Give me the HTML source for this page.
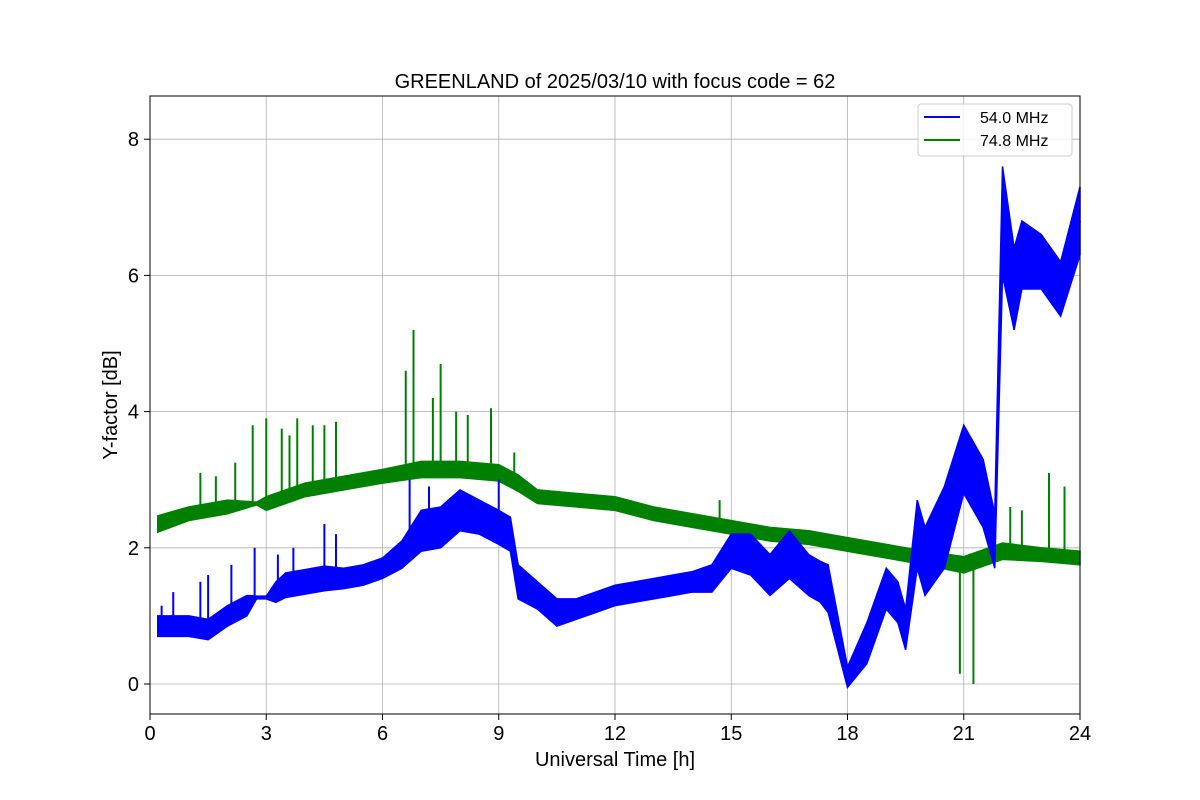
<!DOCTYPE html>
<html><head><meta charset="utf-8">
<style>
html,body{margin:0;padding:0;background:#fff;}
svg{display:block;font-family:"Liberation Sans","DejaVu Sans",sans-serif;}
</style></head>
<body>
<svg id="chart" width="1200" height="800" xmlns="http://www.w3.org/2000/svg">
<rect width="1200" height="800" fill="#fff"/>
<g id="grid"></g>
<g id="series"></g>
<rect x="150" y="96" width="930" height="618" fill="none" stroke="#000" stroke-width="1"/>
<g id="ticks"></g>
<text x="615" y="88" text-anchor="middle" font-size="20">GREENLAND of 2025/03/10 with focus code = 62</text>
<text x="615" y="766" text-anchor="middle" font-size="20">Universal Time [h]</text>
<text transform="translate(117,405) rotate(-90)" text-anchor="middle" font-size="20">Y-factor [dB]</text>
<g>
<rect x="918" y="104" width="154" height="52" rx="3" fill="#fff" fill-opacity="0.8" stroke="#ccc"/>
<g>
<line x1="924" y1="117" x2="960" y2="117" stroke="#0000ff" stroke-width="2"/>
<text x="980" y="123" font-size="16">54.0 MHz</text></g>
<g>
<line x1="924" y1="140" x2="960" y2="140" stroke="#008000" stroke-width="2"/>
<text x="980" y="146" font-size="16">74.8 MHz</text></g>
</g>
</svg>
<script>
const xTicks=[0,3,6,9,12,15,18,21,24];
const yTicks=[0,2,4,6,8];
const blueT=[0.2,0.5,1,1.5,2,2.5,2.75,3.0,3.25,3.5,4,4.5,5,5.5,6,6.5,7,7.5,8,8.5,9,9.3,9.5,10,10.5,11,11.5,12,12.5,13,13.5,14,14.5,15,15.5,16,16.5,17,17.3,17.5,18,18.5,19,19.3,19.5,19.8,20,20.5,21,21.5,21.8,22,22.3,22.5,23,23.5,24];
const blueV=[0.85,0.85,0.85,0.8,1.0,1.15,1.27,1.27,1.35,1.45,1.5,1.55,1.55,1.6,1.7,1.9,2.25,2.3,2.55,2.45,2.3,2.2,1.5,1.3,1.05,1.1,1.2,1.3,1.35,1.4,1.45,1.5,1.55,1.95,1.9,1.6,1.9,1.6,1.5,1.4,0.1,0.6,1.4,1.2,0.8,2.2,1.8,2.3,3.3,2.8,2.1,6.8,5.8,6.3,6.2,5.8,6.8];
const blueS=[0.15,0.15,0.15,0.15,0.15,0.15,0.02,0.02,0.15,0.18,0.18,0.18,0.15,0.15,0.15,0.2,0.3,0.3,0.3,0.25,0.25,0.25,0.25,0.2,0.2,0.15,0.15,0.15,0.15,0.15,0.15,0.15,0.2,0.25,0.3,0.3,0.35,0.3,0.3,0.35,0.15,0.3,0.3,0.3,0.3,0.5,0.5,0.6,0.5,0.5,0.4,0.8,0.6,0.5,0.4,0.4,0.5];
const greenT=[0.2,1,2,2.75,3.0,3.5,4,5,6,7,8,9,9.5,10,11,12,13,14,15,16,17,18,19,20,21,22,23,24];
const greenV=[2.35,2.5,2.6,2.65,2.65,2.75,2.85,2.95,3.05,3.15,3.15,3.1,2.95,2.75,2.7,2.65,2.5,2.4,2.3,2.2,2.15,2.05,1.95,1.85,1.75,1.95,1.9,1.85];
const greenS=[0.12,0.1,0.1,0.02,0.1,0.1,0.1,0.1,0.1,0.12,0.12,0.12,0.12,0.1,0.1,0.1,0.1,0.1,0.1,0.1,0.1,0.1,0.1,0.1,0.12,0.12,0.1,0.1];
const greenSpikeT=[1.3,1.7,2.2,2.65,3.0,3.4,3.6,3.8,4.2,4.5,4.8,6.6,6.8,7.3,7.5,7.9,8.2,8.8,9.4,14.7,20.9,21.25,22.2,22.5,23.2,23.6];
const greenSpikeV=[3.1,3.05,3.25,3.8,3.9,3.75,3.65,3.9,3.8,3.8,3.85,4.6,5.2,4.2,4.7,4.0,3.95,4.05,3.4,2.7,0.15,0.0,2.6,2.55,3.1,2.9];
const blueSpikeT=[0.3,0.6,1.3,1.5,2.1,2.7,3.3,3.7,4.5,4.8,6.7,7.2,9.0];
const blueSpikeV=[1.15,1.35,1.5,1.6,1.75,2.0,1.9,2.0,2.35,2.2,3.0,2.9,3.0];

const NS="http://www.w3.org/2000/svg";
const x=t=>150+t*(930/24);
const y=v=>684-v*68.1;
function mk(tag,attrs,parent){const e=document.createElementNS(NS,tag);for(const k in attrs)e.setAttribute(k,attrs[k]);parent.appendChild(e);return e;}
const grid=document.getElementById('grid'),ticks=document.getElementById('ticks'),ser=document.getElementById('series');
xTicks.forEach(t=>{
 const g=mk('line',{x1:x(t),x2:x(t),y1:96,y2:714,stroke:'#b0b0b0','stroke-width':0.8},grid);
 
 
 const tk=mk('line',{x1:x(t),x2:x(t),y1:714,y2:720,stroke:'#000'},ticks);
 
 
 const tx=mk('text',{x:x(t),y:740,'text-anchor':'middle','font-size':20},ticks);
 tx.textContent=t;
 
 
});
yTicks.forEach(v=>{
 const g=mk('line',{x1:150,x2:1080,y1:y(v),y2:y(v),stroke:'#b0b0b0','stroke-width':0.8},grid);
 
 
 const tk=mk('line',{x1:144,x2:150,y1:y(v),y2:y(v),stroke:'#000'},ticks);
 
 
 const tx=mk('text',{x:139,y:y(v)+7,'text-anchor':'end','font-size':20},ticks);
 tx.textContent=v;
 
 
});
function drawSeries(T,V,S,spT,spV,col,name){
 const up=T.map((t,i)=>x(t)+','+y(V[i]+S[i]));
 const lo=T.map((t,i)=>x(t)+','+y(V[i]-S[i])).reverse();
 const band=mk('polygon',{points:up.concat(lo).join(' '),fill:col,stroke:col,'stroke-width':1.5},ser);
 
 
 const line=mk('polyline',{points:T.map((t,i)=>x(t)+','+y(V[i])).join(' '),fill:'none',stroke:col,'stroke-width':2},ser);
 
 
 spT.forEach((t,i)=>{
  let k=0;while(k<T.length-2&&T[k+1]<t)k++;
  const f=(t-T[k])/(T[k+1]-T[k]);const base=V[k]+f*(V[k+1]-V[k]);
  const s=mk('line',{x1:x(t),x2:x(t),y1:y(base),y2:y(spV[i]),stroke:col,'stroke-width':2},ser);
  
  
 });
}
drawSeries(greenT,greenV,greenS,greenSpikeT,greenSpikeV,'#008000','series-74mhz');
drawSeries(blueT,blueV,blueS,blueSpikeT,blueSpikeV,'#0000ff','series-54mhz');
</script>
</body></html>
